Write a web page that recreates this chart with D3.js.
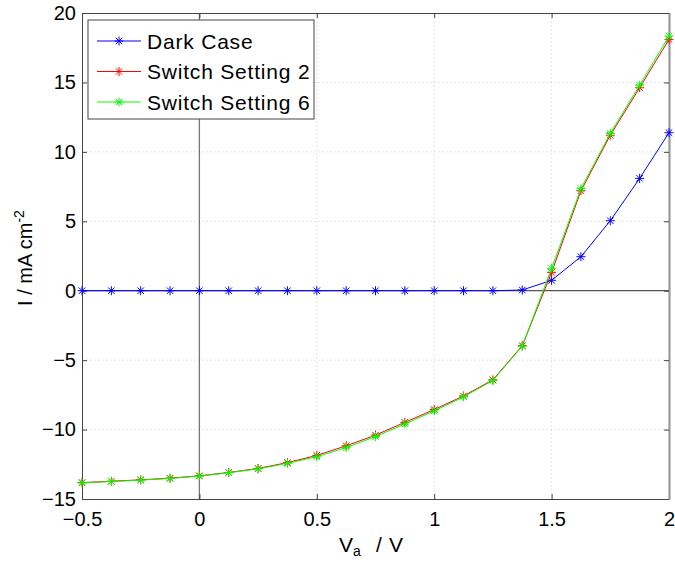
<!DOCTYPE html>
<html>
<head>
<meta charset="utf-8">
<script src="https://cdn.jsdelivr.net/npm/d3@7"></script>
<style>
  html, body { margin: 0; padding: 0; background: #fff; }
  svg { display: block; font-family: "Liberation Sans", Arial, Helvetica, sans-serif; }
</style>
</head>
<body>
<svg id="chart" width="675" height="562"></svg>
<script>
// Applied voltage (V)
const voltage = [-0.5, -0.375, -0.25, -0.125, 0, 0.125, 0.25, 0.375, 0.5, 0.625,
                 0.75, 0.875, 1.0, 1.125, 1.25, 1.375, 1.5, 1.625, 1.75, 1.875, 2.0];

// Current density (mA cm^-2)
const darkCase = [0, 0, 0, 0, 0, 0, 0, 0, 0, 0,
                  0, 0, 0, 0, 0, 0.05, 0.75, 2.45, 5.04, 8.09, 11.38];
const switch2  = [-13.82, -13.72, -13.62, -13.5, -13.33, -13.09, -12.8, -12.38, -11.86, -11.17,
                  -10.4, -9.48, -8.56, -7.58, -6.42, -3.96, 1.32, 7.2, 11.2, 14.62, 18.1];
const switch6  = [-13.84, -13.74, -13.64, -13.52, -13.35, -13.11, -12.83, -12.43, -11.95, -11.3,
                  -10.5, -9.6, -8.66, -7.65, -6.46, -4.0, 1.61, 7.35, 11.33, 14.8, 18.34];

const xTicks = [-0.5, 0, 0.5, 1, 1.5, 2];
const yTicks = [-15, -10, -5, 0, 5, 10, 15, 20];

const seriesNames = ["Dark Case", "Switch Setting 2", "Switch Setting 6"];
const seriesColors = ["#0000ff", "#ff0000", "#00ff00"];
const seriesValues = [darkCase, switch2, switch6];

const margin = { left: 82, right: 6, top: 13, bottom: 63 };
const W = 675, H = 562;
const svg = d3.select("#chart");

const x = d3.scaleLinear().domain([-0.5, 2]).range([margin.left, W - margin.right]);
const y = d3.scaleLinear().domain([-15, 20]).range([H - margin.bottom, margin.top]);

const x0 = x.range()[0], x1 = x.range()[1];
const y0 = y.range()[0], y1 = y.range()[1];

// Grid
const grid = svg.append("g").attr("stroke", "#d0d0d0").attr("stroke-width", 0.8)
  .attr("stroke-dasharray", "1.5,2.5");
grid.selectAll(".gx").data(xTicks.slice(1, -1)).join("line")
  .attr("x1", d => x(d)).attr("x2", d => x(d)).attr("y1", y0).attr("y2", y1);
grid.selectAll(".gy").data(yTicks.slice(1, -1)).join("line")
  .attr("y1", d => y(d)).attr("y2", d => y(d)).attr("x1", x0).attr("x2", x1);

// Zero reference lines
svg.append("line").attr("x1", x0).attr("x2", x1).attr("y1", y(0)).attr("y2", y(0))
  .attr("stroke", "#555").attr("stroke-width", 1.2);
svg.append("line").attr("x1", x(0)).attr("x2", x(0)).attr("y1", y0).attr("y2", y1)
  .attr("stroke", "#777").attr("stroke-width", 1.3);

// Axes (ticks inward, mirrored on top/right)
const tick = 5;
const xAxisB = d3.axisBottom(x).tickValues(xTicks).tickSizeInner(-tick).tickSizeOuter(0)
  .tickPadding(13).tickFormat(d3.format("~g"));
const xAxisT = d3.axisTop(x).tickValues(xTicks).tickSizeInner(-tick).tickSizeOuter(0).tickFormat("");
const yAxisL = d3.axisLeft(y).tickValues(yTicks).tickSizeInner(-tick).tickSizeOuter(0)
  .tickPadding(6).tickFormat(d3.format("~g"));
const yAxisR = d3.axisRight(y).tickValues(yTicks).tickSizeInner(-tick).tickSizeOuter(0).tickFormat("");

function style(g) {
  g.select(".domain").attr("stroke", "#444").attr("stroke-width", 1);
  g.selectAll(".tick line").attr("stroke", "#444");
  g.selectAll(".tick text").attr("fill", "#000").attr("font-size", 20)
    .attr("font-family", "Liberation Sans, Arial, sans-serif");
}
svg.append("g").attr("transform", `translate(0,${y0})`).call(xAxisB).call(style);
svg.append("g").attr("transform", `translate(0,${y1})`).call(xAxisT).call(style);
svg.append("g").attr("transform", `translate(${x0},0)`).call(yAxisL).call(style);
const rg = svg.append("g").attr("transform", `translate(${x1},0)`).call(yAxisR).call(style);
rg.select(".domain").attr("stroke", "#999").attr("stroke-width", 2.2);

// Series lines and asterisk markers
const line = d3.line().x((d, i) => x(voltage[i])).y(d => y(d));
function asterisk(g, cx, cy, color, r) {
  const d = r * 0.72;
  const segs = [[-r, 0, r, 0], [0, -r, 0, r], [-d, -d, d, d], [-d, d, d, -d]];
  g.selectAll(null).data(segs).join("line")
    .attr("x1", s => cx + s[0]).attr("y1", s => cy + s[1])
    .attr("x2", s => cx + s[2]).attr("y2", s => cy + s[3])
    .attr("stroke", color).attr("stroke-width", 1);
}
seriesValues.forEach((vals, k) => {
  const g = svg.append("g");
  g.append("path").datum(vals).attr("d", line).attr("fill", "none")
    .attr("stroke", seriesColors[k]).attr("stroke-width", 1);
  vals.forEach((v, i) => asterisk(g.append("g"), x(voltage[i]), y(v), seriesColors[k], 4.5));
});

// Axis labels
const xl = svg.append("text").attr("y", 552).attr("font-size", 21).attr("fill", "#000");
xl.append("tspan").attr("x", 339).text("V");
xl.append("tspan").attr("font-size", 14).attr("dy", 4).text("a");
xl.append("tspan").attr("x", 376).attr("dy", -4).text("/");
xl.append("tspan").attr("x", 389).text("V");

const yl = svg.append("text").attr("transform", "translate(32,258) rotate(-90)")
  .attr("text-anchor", "middle").attr("font-size", 20).attr("fill", "#000");
yl.append("tspan").text("I / mA cm");
yl.append("tspan").attr("font-size", 14).attr("dy", -8).text("-2");

// Legend
const lg = svg.append("g");
lg.append("rect").attr("x", 88).attr("y", 20).attr("width", 226).attr("height", 99)
  .attr("fill", "#fff").attr("stroke", "#444").attr("stroke-width", 1);
seriesNames.forEach((name, k) => {
  const cy = 41 + k * 30.5;
  lg.append("line").attr("x1", 97).attr("x2", 141).attr("y1", cy).attr("y2", cy)
    .attr("stroke", seriesColors[k]).attr("stroke-width", 1);
  asterisk(lg.append("g"), 119, cy, seriesColors[k], 4.5);
  lg.append("text").attr("x", 147).attr("y", cy + 7.5).attr("font-size", 21)
    .attr("letter-spacing", 0.8).attr("fill", "#000").text(name);
});
</script>
</body>
</html>
